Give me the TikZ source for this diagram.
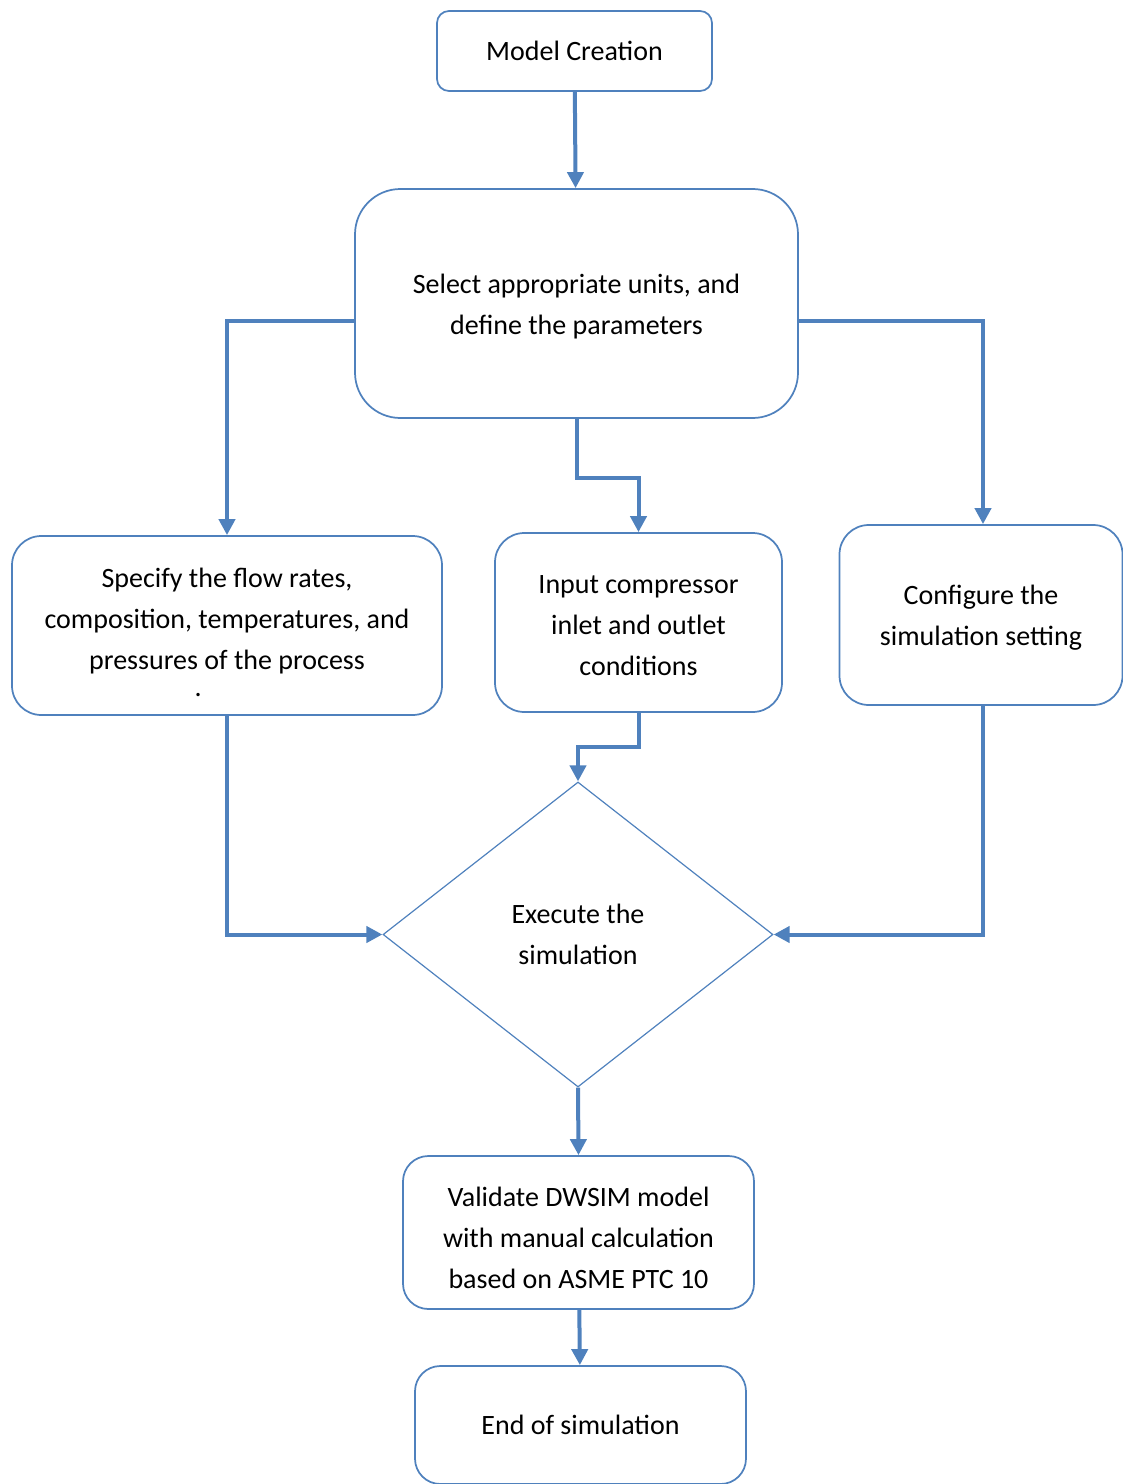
\documentclass[tikz,border=0pt]{standalone}
\usepackage{xcolor}
\usepackage{fontspec}
\setmainfont{Carlito}
\usetikzlibrary{shapes.geometric,arrows.meta}

\definecolor{flowblue}{RGB}{79,129,189}
\newcommand{\lowstrut}[1][19pt]{\rule{0pt}{#1}}

\tikzset{
  box/.style={draw=flowblue, line width=1.3pt, fill=white, align=center, inner sep=0pt},
  decision/.style={draw=flowblue, line width=0.9pt, diamond, align=center, inner sep=0pt},
  link/.style={draw=flowblue, line width=3pt, -{Triangle[length=12pt,width=12pt]}}
}

\begin{document}
\begin{tikzpicture}[x=0.75pt,y=0.75pt,yscale=-1,xscale=1,
  font=\fontsize{21}{30.75}\selectfont]
\useasboundingbox (0,0) rectangle (1122,1484);

%Shape: Rounded Rectangle [id:model]
\node (model) at (574.5,51) [box, rounded corners=9pt, minimum width=206.25pt, minimum height=60pt] {Model Creation};
%Shape: Rounded Rectangle [id:select]
\node (select) at (576.5,303.5) [box, rounded corners=34pt, minimum width=332.25pt, minimum height=171.75pt] {\lowstrut Select appropriate units, and\\ define the parameters};
%Shape: Rounded Rectangle [id:specify]
\node (specify) at (227,625.5) [box, rounded corners=22pt, minimum width=322.5pt, minimum height=134.25pt] {\lowstrut[25pt]Specify the flow rates,\\ composition, temperatures, and\\ pressures of the process\\[-10pt] \llap{.\hspace{19pt}}};
%Shape: Rounded Rectangle [id:input]
\node (input) at (638.5,622.5) [box, rounded corners=22pt, minimum width=215.25pt, minimum height=134.25pt] {\lowstrut[18pt]Input compressor\\ inlet and outlet\\ conditions};
%Shape: Rounded Rectangle [id:configure]
\node (configure) at (981,615) [box, rounded corners=22pt, minimum width=212.25pt, minimum height=135pt] {\lowstrut Configure the\\ simulation setting};
%Shape: Diamond [id:exec]
\node (exec) at (578,934.5) [decision, minimum width=292.5pt, minimum height=228.75pt] {Execute the\\ simulation};
%Shape: Rounded Rectangle [id:validate]
\node (validate) at (578.5,1232.5) [box, rounded corners=19pt, minimum width=263.25pt, minimum height=114.75pt] {\lowstrut[23pt]Validate DWSIM model\\ with manual calculation\\ based on ASME PTC 10};
%Shape: Rounded Rectangle [id:endsim]
\node (endsim) at (580.5,1425) [box, rounded corners=19pt, minimum width=248.25pt, minimum height=88.5pt] {End of simulation};

%Connectors
\draw [link] (model) -- (select);
\draw [link] ([yshift=13pt]select.west) -| (specify.north);
\draw [link] ([yshift=13pt]select.east) -| ([xshift=1.5pt]configure.north);
\draw [link] (select.south) -- ++(0,59) -| (input.north);
\draw [link] (specify.south) |- (exec.west);
\draw [link] (input.south) -- ++(0,34) -| (exec.north);
\draw [link] ([xshift=1.5pt]configure.south) |- (exec.east);
\draw [link] (exec.south) -- (validate.north);
\draw [link] (validate) -- (endsim);

\end{tikzpicture}
\end{document}
